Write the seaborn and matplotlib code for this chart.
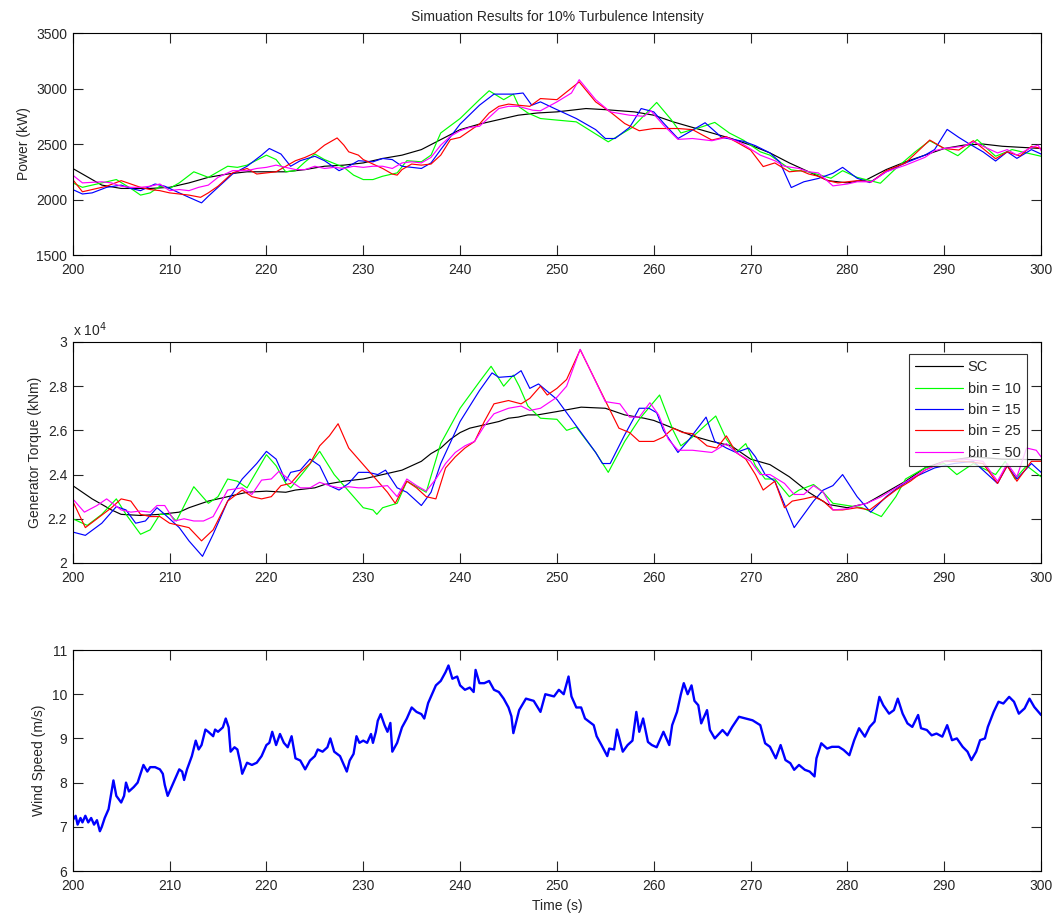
import numpy as np
import pandas as pd
import matplotlib
matplotlib.use('Agg')
import matplotlib.pyplot as plt
import seaborn as sns

# ---- data ----
labels = ['SC', 'bin = 10', 'bin = 15', 'bin = 25', 'bin = 50']
colors = ['#000000', '#00ff00', '#0000ff', '#ff0000', '#ff00ff']

# power (kW)
p_sc_t = [200, 202, 203, 205, 208, 210, 212, 214, 216, 218, 220, 222, 224, 226, 228, 230, 232, 234, 236, 238,
          240, 242, 244, 246, 248, 250, 253, 255, 258, 260, 262, 264, 266, 268, 270, 272, 274, 276, 278, 280,
          282, 284, 286, 288, 290, 292, 294, 296, 298, 300]
p_sc = [2280, 2180, 2130, 2100, 2100, 2110, 2150, 2200, 2230, 2250, 2250, 2250, 2270, 2300, 2310, 2330, 2370, 2400, 2450, 2540,
        2630, 2680, 2720, 2760, 2780, 2790, 2820, 2810, 2790, 2760, 2700, 2650, 2600, 2550, 2490, 2420, 2330, 2250, 2170, 2150,
        2180, 2270, 2340, 2400, 2460, 2490, 2500, 2480, 2470, 2460]

p_b10_t = [200, 201, 203, 204.5, 206, 207, 208, 209, 210, 211, 212.5, 214, 216, 217, 218, 220, 221, 222, 223, 224,
           225, 226, 228, 229, 230, 231, 232, 233.5, 234.5, 236, 237, 238, 240, 242, 243, 244.5, 245.5, 246.1, 247, 248.3,
           250, 252, 255.3, 257.8, 260.3, 261.8, 262.8, 265, 266.3, 267.8, 269.3, 271, 272, 274.2, 276, 278.3, 279.5, 281,
           283.4, 285, 287, 288.5, 290, 291.4, 293.4, 295.3, 297, 298, 300]
p_b10 = [2150, 2110, 2150, 2180, 2100, 2040, 2060, 2120, 2100, 2150, 2250, 2200, 2300, 2290, 2310, 2400, 2360, 2250, 2260, 2340,
         2410, 2360, 2290, 2220, 2180, 2180, 2210, 2240, 2350, 2340, 2400, 2600, 2730, 2900, 2980, 2900, 2950, 2835, 2780, 2730,
         2716, 2700, 2520, 2650, 2875, 2720, 2600, 2656, 2695, 2600, 2533, 2430, 2400, 2267, 2250, 2192, 2260, 2200,
         2147, 2280, 2430, 2530, 2460, 2395, 2540, 2390, 2450, 2430, 2390]

p_b15_t = [200, 201, 202, 203.5, 205, 206, 207, 208.5, 209.5, 211, 212, 213.3, 214, 215, 216.5, 218, 219.5, 220.3, 221.5, 222.5,
           223.5, 225, 226, 227, 227.5, 228.5, 229.5, 231, 232, 233, 234, 236, 237, 238, 240, 242, 243.5, 245.5, 246.5, 247.4,
           248.3, 250, 252, 254, 255, 256, 257.5, 258.7, 260, 261, 262.5, 263.5, 265.3, 266.5, 267, 269.3, 270.5, 272, 273, 274.2,
           275.5, 277, 278.5, 279.5, 281, 282.3, 284, 286, 288, 289, 290.3, 291.5, 292.5, 294, 295.3, 296.5, 297.5, 299, 300]
p_b15 = [2090, 2050, 2060, 2110, 2130, 2100, 2080, 2140, 2120, 2060, 2020, 1970, 2030, 2110, 2230, 2300, 2400, 2460, 2410, 2300,
         2350, 2390, 2350, 2290, 2260, 2300, 2350, 2340, 2370, 2360, 2300, 2280, 2330, 2450, 2680, 2850, 2950, 2950, 2960, 2850,
         2880, 2810, 2730, 2630, 2550, 2550, 2650, 2820, 2790, 2690, 2550, 2600, 2692, 2600, 2560, 2524, 2485, 2420, 2340, 2108,
         2160, 2190, 2237, 2290, 2192, 2153, 2250, 2330, 2400, 2450, 2632, 2560, 2506, 2430, 2347, 2430, 2371, 2450, 2410]

p_b25_t = [200, 201, 202, 203.5, 205, 206, 207, 208, 209, 210, 211, 212, 213.2, 214, 215, 216.5, 218, 219, 220, 221,
           222, 223, 224, 225, 226, 227.3, 228, 228.5, 229.5, 230, 231, 232, 233, 233.5, 234, 235, 236, 237, 238, 239,
           240, 241, 242, 243, 244, 245, 246, 247.2, 248.3, 250, 252.3, 254, 255.5, 257, 258.5, 260, 261, 262.5, 264, 266,
           267.5, 268.5, 270, 271.3, 272.5, 274, 275.2, 276, 277, 278, 279, 280, 281, 282.5, 284, 286, 288.5, 290, 291.5, 293,
           295.3, 296.5, 297.8, 299, 300]
p_b25 = [2180, 2070, 2090, 2120, 2170, 2140, 2110, 2090, 2080, 2060, 2050, 2040, 2020, 2060, 2120, 2240, 2280, 2230, 2240, 2250,
         2300, 2350, 2380, 2420, 2490, 2555, 2490, 2430, 2400, 2360, 2320, 2280, 2230, 2220, 2270, 2320, 2310, 2320, 2400, 2540,
         2560, 2620, 2680, 2780, 2840, 2860, 2850, 2840, 2910, 2900, 3060, 2880, 2790, 2685, 2620, 2640, 2640, 2640, 2630, 2536,
         2566, 2520, 2446, 2297, 2330, 2250, 2260, 2230, 2210, 2170, 2150, 2160, 2170, 2160, 2260, 2330, 2536, 2460, 2446, 2530,
         2368, 2430, 2392, 2480, 2460]

p_b50_t = [200, 201, 203, 204, 205, 206, 207, 208, 209, 210, 211, 212, 213, 214, 215, 216.5, 218, 219, 220, 221,
           222, 223, 224, 225, 226, 227, 228, 229, 230, 231, 232, 233, 234, 235, 236, 237, 238, 239, 240, 241,
           242, 243, 244, 245, 246, 247.5, 248.3, 250, 251.5, 252.3, 254, 255.5, 257.5, 259, 259.7, 261, 262.5, 264, 266, 267.5,
           269, 271, 272.5, 273.5, 275, 276, 277, 278.5, 280, 281, 282.5, 284, 286, 288, 289, 290, 292, 293, 294, 295.5,
           296.5, 297.5, 299, 299.7, 300]
p_b50 = [2220, 2150, 2160, 2150, 2120, 2110, 2110, 2120, 2140, 2080, 2090, 2080, 2110, 2130, 2200, 2260, 2260, 2280, 2290, 2310,
         2290, 2270, 2270, 2300, 2280, 2290, 2280, 2300, 2290, 2300, 2300, 2280, 2330, 2340, 2330, 2380, 2490, 2570, 2620, 2650,
         2660, 2740, 2820, 2840, 2840, 2805, 2800, 2880, 2960, 3080, 2900, 2790, 2760, 2750, 2800, 2670, 2542, 2550, 2530, 2560,
         2510, 2400, 2350, 2300, 2280, 2250, 2240, 2123, 2140, 2160, 2160, 2250, 2310, 2380, 2440, 2460, 2480, 2520, 2480, 2420,
         2450, 2400, 2470, 2490, 2440]

# generator torque (x 10^4 kNm)
q_sc_t = [200, 202, 204, 205, 207, 209, 210, 211, 212, 214, 216, 218, 220, 222, 223, 225, 226, 228, 230, 231,
          232, 234, 236, 237, 238, 239, 240, 241, 242, 243, 244, 245, 246, 247, 248, 250, 252.5, 255, 257, 259,
          260, 262, 264, 266, 268, 270, 272, 274, 276, 278, 280, 282, 284, 286, 288, 290, 293, 296, 300]
q_sc = [2.35, 2.29, 2.24, 2.22, 2.215, 2.22, 2.225, 2.23, 2.25, 2.28, 2.30, 2.32, 2.325, 2.32, 2.33, 2.34, 2.355, 2.37, 2.38, 2.39,
        2.40, 2.42, 2.46, 2.495, 2.52, 2.56, 2.59, 2.61, 2.62, 2.63, 2.64, 2.655, 2.66, 2.67, 2.67, 2.685, 2.705, 2.70, 2.67, 2.655,
        2.645, 2.61, 2.575, 2.55, 2.53, 2.47, 2.445, 2.39, 2.32, 2.265, 2.25, 2.27, 2.32, 2.37, 2.43, 2.46, 2.48, 2.47, 2.467]

q_b10_t = [200, 201.5, 203, 204.5, 205.5, 207, 208, 209, 210, 210.7, 212.5, 214, 215, 216, 217, 218, 220, 221, 222, 222.5,
           224, 225.5, 227, 228, 229, 230, 231, 231.4, 232, 233.5, 234.5, 236.5, 238, 240, 242, 243.2, 244.5, 245.5, 246.1, 247,
           248.3, 250, 251, 252, 254, 255.3, 257, 258.5, 260.6, 262, 262.8, 264, 266.4, 267.5, 268.5, 269.5, 270.5, 271.5, 272.5, 274,
           275, 276.5, 277.5, 278.5, 280, 281.5, 283.5, 285, 286, 288, 290, 291.3, 293, 295.3, 296.3, 297.3, 298.5, 300]
q_b10 = [2.20, 2.17, 2.22, 2.29, 2.22, 2.13, 2.15, 2.22, 2.22, 2.19, 2.345, 2.27, 2.30, 2.38, 2.37, 2.34, 2.49, 2.44, 2.36, 2.34,
         2.42, 2.505, 2.40, 2.35, 2.30, 2.25, 2.24, 2.22, 2.25, 2.27, 2.37, 2.32, 2.54, 2.70, 2.82, 2.89, 2.80, 2.85, 2.80, 2.71,
         2.655, 2.65, 2.60, 2.615, 2.50, 2.41, 2.55, 2.65, 2.76, 2.60, 2.53, 2.57, 2.665, 2.56, 2.50, 2.54, 2.44, 2.38, 2.38, 2.30,
         2.33, 2.355, 2.32, 2.27, 2.26, 2.25, 2.21, 2.30, 2.38, 2.43, 2.45, 2.40, 2.45, 2.40, 2.46, 2.38, 2.44, 2.39]

q_b15_t = [200, 201.3, 203, 204.5, 205.5, 206.5, 207.5, 208.7, 209.5, 211, 212, 213.4, 214.5, 216, 217.5, 219, 220, 221, 222, 222.5,
           223.5, 224.5, 225.5, 226.5, 227.5, 228.5, 229.5, 230.5, 231.5, 232.3, 233.5, 234.5, 236, 237, 238, 240, 242, 243.3, 244, 245.5,
           246.3, 247.2, 248.1, 250, 252, 254, 254.7, 255.5, 257, 258.5, 259.5, 260.3, 261, 262.5, 263.5, 265.4, 266.3, 267.5, 268.5, 269.8,
           270.5, 271.5, 272.5, 274.5, 275.5, 276.5, 277.5, 278.5, 279.5, 281, 282.4, 284, 285.5, 287, 289, 291, 293, 295.5, 296.5, 297.5,
           299, 300]
q_b15 = [2.14, 2.125, 2.18, 2.255, 2.24, 2.18, 2.19, 2.25, 2.22, 2.16, 2.10, 2.03, 2.13, 2.28, 2.38, 2.45, 2.505, 2.47, 2.37, 2.41,
         2.42, 2.47, 2.44, 2.35, 2.33, 2.36, 2.41, 2.41, 2.40, 2.42, 2.34, 2.32, 2.26, 2.32, 2.45, 2.64, 2.78, 2.86, 2.84, 2.845,
         2.87, 2.79, 2.81, 2.74, 2.62, 2.50, 2.45, 2.45, 2.58, 2.70, 2.70, 2.68, 2.60, 2.50, 2.55, 2.66, 2.55, 2.52, 2.50, 2.52,
         2.48, 2.40, 2.37, 2.16, 2.22, 2.28, 2.33, 2.35, 2.40, 2.30, 2.23, 2.30, 2.35, 2.39, 2.43, 2.45, 2.46, 2.36, 2.44, 2.38,
         2.45, 2.41]

q_b25_t = [200, 201.3, 202.5, 204, 205, 206, 207, 208, 209, 210, 211, 212, 213.3, 214.5, 216, 217.5, 218.5, 219.5, 220.5, 221.5,
           222.5, 223.5, 224.5, 225.5, 226.5, 227.4, 228.5, 229.5, 230.5, 231.5, 232.5, 233.3, 234.5, 235.5, 236.5, 237.5, 238.5, 239.5,
           240.5, 241.5, 242.5, 243.5, 245, 246.3, 247.2, 248.3, 249, 250, 251, 252.4, 256.4, 257.5, 258.5, 260, 261, 262, 263, 264,
           265.5, 266.5, 267.5, 268.5, 269.5, 270.5, 271.3, 272.5, 273.5, 274.3, 275.5, 276.5, 277.5, 278.5, 279.5, 281, 282.3, 283.5,
           285, 286.5, 288, 290, 292, 294, 295.5, 296.5, 297.5, 299, 300]
q_b25 = [2.28, 2.16, 2.20, 2.25, 2.29, 2.28, 2.22, 2.21, 2.21, 2.18, 2.17, 2.16, 2.10, 2.15, 2.28, 2.33, 2.30, 2.29, 2.30, 2.35,
         2.36, 2.41, 2.45, 2.53, 2.575, 2.63, 2.52, 2.47, 2.42, 2.37, 2.32, 2.27, 2.37, 2.34, 2.30, 2.29, 2.43, 2.48,
         2.52, 2.55, 2.64, 2.72, 2.735, 2.72, 2.745, 2.80, 2.76, 2.79, 2.83, 2.965, 2.61, 2.59, 2.55, 2.55, 2.57, 2.61, 2.59, 2.585,
         2.53, 2.52, 2.575, 2.50, 2.47, 2.40, 2.33, 2.37, 2.25, 2.28, 2.29, 2.30, 2.28, 2.24, 2.24, 2.25, 2.24, 2.28,
         2.33, 2.37, 2.42, 2.46, 2.46, 2.45, 2.36, 2.44, 2.37, 2.46, 2.46]

q_b50_t = [200, 201.2, 202.5, 203.5, 205, 206, 207, 208, 208.7, 209.5, 210.5, 211.5, 212.5, 213.5, 214.5, 216, 217.5, 218.5, 219.5, 220.5,
           221.3, 222, 222.5, 223.5, 224.5, 225.5, 226.5, 227.5, 228.5, 229.5, 230.5, 231.5, 232.5, 233.5, 234.5, 235.5, 236.5, 237.5, 238.5, 239.5,
           240.5, 241.5, 242.5, 243.5, 245, 246.3, 247.2, 248.3, 250, 251, 252.4, 255, 256.5, 257.5, 258.5, 259.6, 260.5, 261.5, 262.5, 264,
           266, 267.5, 268.5, 270, 271, 272, 273.5, 274.5, 275.5, 276.5, 277.5, 278.5, 280, 281, 282, 283.5, 285, 286.5, 288, 290,
           292, 294, 295.5, 296.5, 297.5, 298.5, 299.5, 300]
q_b50 = [2.29, 2.23, 2.26, 2.29, 2.24, 2.23, 2.235, 2.23, 2.26, 2.26, 2.19, 2.20, 2.19, 2.19, 2.21, 2.33, 2.34, 2.31, 2.375, 2.38,
         2.415, 2.39, 2.37, 2.34, 2.34, 2.365, 2.35, 2.34, 2.345, 2.34, 2.34, 2.345, 2.35, 2.30, 2.38, 2.35, 2.325, 2.38, 2.45, 2.50,
         2.53, 2.55, 2.62, 2.675, 2.70, 2.71, 2.69, 2.70, 2.75, 2.80, 2.967, 2.73, 2.72, 2.66, 2.66, 2.725, 2.67, 2.56, 2.51, 2.51,
         2.50, 2.54, 2.50, 2.46, 2.40, 2.40, 2.36, 2.31, 2.31, 2.35, 2.32, 2.24, 2.245, 2.26, 2.27, 2.30, 2.34, 2.38, 2.42, 2.46,
         2.47, 2.46, 2.37, 2.45, 2.39, 2.52, 2.51, 2.48]

# wind speed (m/s)
wind_t = [200.0, 200.3, 200.5, 200.8, 201.0, 201.3, 201.6, 201.9, 202.2, 202.5, 202.8, 203.0, 203.3, 203.7, 204.2, 204.5,
          205.0, 205.3, 205.5, 205.8, 206.3, 206.7, 207.0, 207.3, 207.7, 208.0, 208.5, 209.0, 209.3, 209.5, 209.8, 210.2,
          210.6, 211.0, 211.3, 211.5, 211.8, 212.3, 212.7, 213.0, 213.3, 213.7, 214.0, 214.5, 214.7, 215.0, 215.5, 215.8,
          216.1, 216.3, 216.7, 217.0, 217.3, 217.5, 218.0, 218.5, 219.0, 219.5, 220.0, 220.3, 220.6, 221.0, 221.4, 221.8,
          222.2, 222.6, 223.0, 223.5, 224.0, 224.5, 225.0, 225.3, 225.8, 226.3, 226.6, 227.0, 227.3, 227.6, 228.0, 228.3,
          228.6, 229.0, 229.3, 229.6, 230.0, 230.4, 230.8, 231.0, 231.3, 231.5, 231.8, 232.2, 232.5, 232.8, 233.0, 233.5,
          234.0, 234.5, 235.0, 235.5, 236.0, 236.3, 236.7, 237.0, 237.5, 238.0, 238.5, 238.8, 239.2, 239.7, 240.0, 240.5,
          241.0, 241.4, 241.6, 242.0, 242.5, 243.0, 243.5, 244.0, 244.5, 245.0, 245.3, 245.5, 246.1, 246.8, 247.6, 248.3,
          248.8, 249.7, 250.2, 250.7, 251.2, 251.5, 252.0, 252.5, 252.9, 253.2, 253.8, 254.1, 254.6, 255.2, 255.4, 255.9,
          256.2, 256.8, 257.3, 257.8, 258.2, 258.5, 258.9, 259.4, 259.8, 260.3, 260.7, 261.0, 261.6, 261.9, 262.4, 262.8,
          263.1, 263.5, 263.9, 264.2, 264.6, 264.9, 265.5, 265.8, 266.3, 267.1, 267.6, 268.1, 268.8, 269.5, 270.2, 271.0,
          271.5, 272.0, 272.6, 273.1, 273.6, 274.1, 274.5, 275.0, 275.6, 276.1, 276.6, 276.8, 277.3, 277.9, 278.4, 279.1,
          279.6, 280.2, 280.7, 281.2, 281.8, 282.3, 282.8, 283.3, 283.7, 284.3, 284.8, 285.2, 285.7, 286.2, 286.7, 287.3,
          287.6, 288.2, 288.7, 289.2, 289.8, 290.3, 290.8, 291.3, 291.9, 292.4, 292.8, 293.3, 293.7, 294.2, 294.5, 295.1,
          295.6, 296.1, 296.7, 297.2, 297.7, 298.3, 298.8, 299.3, 300.0]
wind = [7.15, 7.25, 7.05, 7.2, 7.1, 7.25, 7.1, 7.2, 7.05, 7.15, 6.9, 7.0, 7.2, 7.4, 8.05, 7.7,
        7.55, 7.7, 8.0, 7.8, 7.9, 8.0, 8.2, 8.4, 8.25, 8.35, 8.35, 8.3, 8.2, 7.95, 7.7, 7.9,
        8.1, 8.3, 8.25, 8.06, 8.3, 8.6, 8.95, 8.75, 8.85, 9.2, 9.15, 9.05, 9.2, 9.15, 9.25, 9.45,
        9.25, 8.7, 8.8, 8.75, 8.45, 8.2, 8.45, 8.4, 8.45, 8.6, 8.85, 8.9, 9.15, 8.85, 9.1, 8.9,
        8.8, 9.05, 8.55, 8.5, 8.3, 8.5, 8.6, 8.75, 8.7, 8.8, 9.0, 8.7, 8.65, 8.6, 8.4, 8.25,
        8.5, 8.65, 9.05, 8.9, 8.95, 8.9, 9.1, 8.9, 9.15, 9.4, 9.55, 9.3, 9.15, 9.35, 8.7, 8.9,
        9.25, 9.45, 9.7, 9.6, 9.55, 9.45, 9.8, 9.95, 10.2, 10.3, 10.5, 10.65, 10.35, 10.4, 10.2, 10.1,
        10.15, 10.05, 10.55, 10.25, 10.25, 10.3, 10.1, 10.05, 9.9, 9.7, 9.5, 9.12, 9.64, 9.9, 9.85, 9.6,
        10.0, 9.95, 10.1, 10.0, 10.4, 9.95, 9.7, 9.7, 9.45, 9.4, 9.3, 9.05, 8.85, 8.6, 8.77, 8.75,
        9.2, 8.7, 8.85, 8.95, 9.6, 9.15, 9.45, 8.92, 8.85, 8.8, 9.0, 9.15, 8.85, 9.3, 9.6, 10.0,
        10.25, 10.0, 10.2, 9.85, 9.75, 9.34, 9.64, 9.19, 9.0, 9.19, 9.07, 9.26, 9.49, 9.45, 9.41, 9.3,
        8.89, 8.81, 8.55, 8.85, 8.51, 8.44, 8.29, 8.4, 8.29, 8.25, 8.14, 8.55, 8.89, 8.77, 8.81, 8.81,
        8.74, 8.62, 8.96, 9.23, 9.04, 9.26, 9.38, 9.94, 9.75, 9.56, 9.64, 9.9, 9.56, 9.34, 9.26, 9.53,
        9.23, 9.19, 9.07, 9.11, 9.04, 9.3, 8.96, 9.0, 8.81, 8.7, 8.51, 8.7, 8.96, 9.0, 9.26, 9.6,
        9.83, 9.79, 9.94, 9.83, 9.56, 9.68, 9.9, 9.71, 9.53]


def long_frame(pairs):
    parts = []
    for lab, (t, v) in zip(labels, pairs):
        parts.append(pd.DataFrame({'t': t, 'v': v, 'series': lab}))
    return pd.concat(parts, ignore_index=True)


power_df = long_frame([(p_sc_t, p_sc), (p_b10_t, p_b10), (p_b15_t, p_b15), (p_b25_t, p_b25), (p_b50_t, p_b50)])
torque_df = long_frame([(q_sc_t, q_sc), (q_b10_t, q_b10), (q_b15_t, q_b15), (q_b25_t, q_b25), (q_b50_t, q_b50)])
wind_df = pd.DataFrame({'t': wind_t, 'v': wind})

sns.set_style('ticks')
plt.rcParams['font.family'] = ['Liberation Sans', 'DejaVu Sans']
plt.rcParams['font.size'] = 10

fig = plt.figure(figsize=(10.59, 9.19), dpi=100)
ax1 = fig.add_axes([0.0687, 0.7225, 0.9144, 0.2415])
ax2 = fig.add_axes([0.0687, 0.3874, 0.9144, 0.2405])
ax3 = fig.add_axes([0.0687, 0.0522, 0.9144, 0.2405])

pal = dict(zip(labels, colors))
sns.lineplot(data=power_df, x='t', y='v', hue='series', palette=pal, estimator=None,
             linewidth=0.85, legend=False, ax=ax1)
sns.lineplot(data=torque_df, x='t', y='v', hue='series', palette=pal, estimator=None,
             linewidth=0.85, ax=ax2)
sns.lineplot(data=wind_df, x='t', y='v', color='#0000ff', estimator=None, linewidth=1.7, ax=ax3)

for ax in (ax1, ax2, ax3):
    ax.set_xlim(200, 300)
    ax.set_xticks(np.arange(200, 301, 10))
    ax.tick_params(direction='in', top=True, right=True, length=7, width=0.8, labelsize=10)
    ax.tick_params(axis='x', pad=6)
    ax.tick_params(axis='y', pad=4)
    for sp in ax.spines.values():
        sp.set_color('black')
        sp.set_linewidth(0.8)
    ax.set_xlabel('')

ax1.set_ylim(1500, 3500)
ax1.set_yticks(np.arange(1500, 3501, 500))
ax1.set_ylabel('Power (kW)')
ax1.set_title('Simuation Results for 10% Turbulence Intensity', fontsize=10, pad=9)

ax2.set_ylim(2, 3)
ax2.set_yticks(np.arange(2, 3.01, 0.2))
ax2.yaxis.set_major_formatter(plt.FormatStrFormatter('%g'))
ax2.set_ylabel('Generator Torque (kNm)')
ax2.text(0.0, 1.015, r'x 10$^4$', transform=ax2.transAxes, ha='left', va='bottom', fontsize=10)
leg = ax2.legend(loc='upper right', bbox_to_anchor=(0.9855, 0.946), borderaxespad=0, frameon=True,
                 fancybox=False, edgecolor='black', handlelength=3.3, borderpad=0.45, labelspacing=0.5,
                 handletextpad=0.3, fontsize=10.5)
leg.get_frame().set_linewidth(0.8)
leg.set_title(None)

ax3.set_ylim(6, 11)
ax3.set_yticks(np.arange(6, 12, 1))
ax3.set_ylabel('Wind Speed (m/s)')
ax3.set_xlabel('Time (s)')

fig.savefig('out.png', dpi=100)
